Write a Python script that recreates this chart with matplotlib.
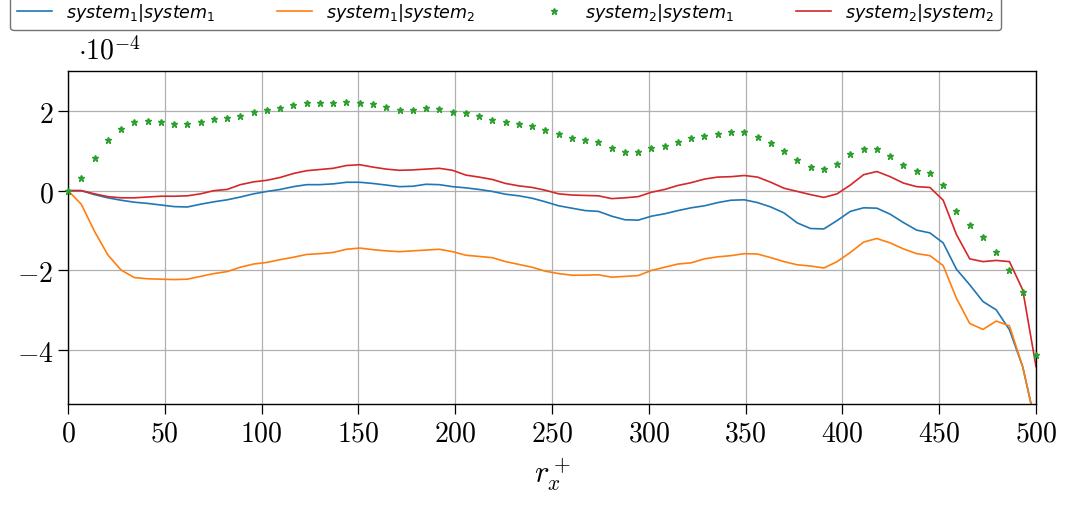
import numpy as np
import matplotlib
matplotlib.use("Agg")
import matplotlib.pyplot as plt
from matplotlib.font_manager import FontProperties

# ---- data (values in units of 1e-4) ----
x = np.linspace(0, 500, 74)

s11 = [0.0, 0.0, -0.10, -0.18, -0.24, -0.29, -0.32, -0.36, -0.40, -0.41,
       -0.34, -0.28, -0.23, -0.16, -0.08, -0.02, 0.03, 0.10, 0.15, 0.15,
       0.17, 0.21, 0.21, 0.18, 0.14, 0.10, 0.11, 0.16, 0.15, 0.10,
       0.07, 0.03, -0.02, -0.09, -0.13, -0.19, -0.28, -0.38, -0.44, -0.50,
       -0.52, -0.64, -0.73, -0.74, -0.64, -0.58, -0.50, -0.43, -0.38, -0.30,
       -0.24, -0.23, -0.30, -0.41, -0.56, -0.81, -0.95, -0.96, -0.75, -0.52,
       -0.43, -0.44, -0.59, -0.80, -0.99, -1.06, -1.31, -1.97, -2.36, -2.78,
       -2.99, -3.49, -4.42, -5.90]

s12 = [0.0, -0.34, -1.02, -1.61, -1.99, -2.18, -2.21, -2.22, -2.23, -2.22,
       -2.15, -2.08, -2.03, -1.92, -1.84, -1.80, -1.73, -1.67, -1.60, -1.58,
       -1.55, -1.47, -1.44, -1.48, -1.51, -1.53, -1.51, -1.49, -1.47, -1.53,
       -1.62, -1.65, -1.68, -1.78, -1.85, -1.92, -2.02, -2.08, -2.12, -2.12,
       -2.11, -2.17, -2.15, -2.13, -2.00, -1.92, -1.84, -1.81, -1.71, -1.66,
       -1.63, -1.58, -1.59, -1.68, -1.78, -1.86, -1.89, -1.94, -1.78, -1.55,
       -1.29, -1.20, -1.31, -1.46, -1.58, -1.63, -1.88, -2.70, -3.33, -3.48,
       -3.27, -3.39, -4.42, -5.90]

s21 = [0.0, 0.32, 0.82, 1.26, 1.55, 1.71, 1.75, 1.73, 1.68, 1.68,
       1.73, 1.79, 1.83, 1.88, 1.97, 2.02, 2.08, 2.15, 2.19, 2.19,
       2.20, 2.23, 2.21, 2.17, 2.09, 2.03, 2.03, 2.06, 2.05, 1.98,
       1.94, 1.86, 1.78, 1.71, 1.66, 1.62, 1.52, 1.41, 1.33, 1.26,
       1.22, 1.08, 0.98, 0.97, 1.07, 1.11, 1.21, 1.32, 1.36, 1.43,
       1.47, 1.46, 1.35, 1.20, 0.99, 0.77, 0.60, 0.54, 0.67, 0.93,
       1.04, 1.04, 0.86, 0.65, 0.49, 0.45, 0.15, -0.50, -0.87, -1.16,
       -1.53, -1.99, -2.55, -4.13]

s22 = [0.0, 0.0, -0.08, -0.15, -0.18, -0.18, -0.16, -0.14, -0.14, -0.13,
       -0.08, 0.00, 0.03, 0.15, 0.22, 0.26, 0.33, 0.43, 0.50, 0.53,
       0.56, 0.63, 0.65, 0.59, 0.54, 0.51, 0.52, 0.54, 0.56, 0.51,
       0.39, 0.34, 0.28, 0.18, 0.12, 0.08, 0.01, -0.08, -0.11, -0.12,
       -0.13, -0.20, -0.18, -0.15, -0.04, 0.03, 0.13, 0.20, 0.29, 0.34,
       0.35, 0.38, 0.34, 0.21, 0.06, -0.02, -0.10, -0.17, -0.08, 0.14,
       0.40, 0.48, 0.35, 0.19, 0.10, 0.08, -0.24, -1.10, -1.71, -1.78,
       -1.75, -1.78, -2.49, -4.41]

labels = [r"$system_1|system_1$", r"$system_1|system_2$",
          r"$system_2|system_1$", r"$system_2|system_2$"]
xticks = [0, 50, 100, 150, 200, 250, 300, 350, 400, 450, 500]
yticks = [-4, -2, 0, 2]
scale = 1e-4

W, H = 1078, 506
fig = plt.figure(figsize=(W / 100, H / 100), dpi=100)
ax = fig.add_axes([68 / W, 1 - 405 / H, (1036 - 68) / W, (405 - 72) / H])

ax.plot(x, np.array(s11) * scale, color="tab:blue", lw=1.2, label=labels[0])
ax.plot(x, np.array(s12) * scale, color="tab:orange", lw=1.2, label=labels[1])
ax.plot(x, np.array(s21) * scale, ls="none", marker="*", ms=4.5,
        color="tab:green", label=labels[2], clip_on=False, zorder=3)
ax.plot(x, np.array(s22) * scale, color="tab:red", lw=1.2, label=labels[3])

ax.set_xlim(0, 500)
ax.set_ylim(-5.35e-4, 3.0e-4)
ax.set_xticks(xticks)
ax.set_xticklabels([f"${t}$" for t in xticks])
ax.set_yticks([t * scale for t in yticks])
ax.set_yticklabels([f"${t}$" if t >= 0 else f"$-{abs(t)}$" for t in yticks])
for lab in ax.get_xticklabels() + ax.get_yticklabels():
    lab.set_fontproperties(FontProperties(size=20, math_fontfamily="cm"))
ax.tick_params(direction="out", length=7, width=0.9, colors="black")
ax.grid(True, color="#b0b0b0", lw=0.9)
ax.set_axisbelow(True)
for sp in ax.spines.values():
    sp.set_linewidth(1.0)
    sp.set_color("black")

ax.set_xlabel(r"$r_x^+$", fontproperties=FontProperties(size=22, math_fontfamily="cm"),
              labelpad=6)
fig.text(78 / W, 1 - 60 / H, r"$\cdot 10^{-4}$",
         fontproperties=FontProperties(size=20, math_fontfamily="cm"),
         ha="left", va="baseline")

leg = fig.legend(loc="lower left", ncol=4, mode="expand",
                 bbox_to_anchor=(10 / W, 1 - 31 / H, 991 / W, 0.05),
                 prop=FontProperties(size=12.6, math_fontfamily="dejavusans"),
                 frameon=True, fancybox=True, borderaxespad=0,
                 handlelength=2.0, markerscale=1.0)
leg.get_frame().set_edgecolor("0.45")
leg.get_frame().set_linewidth(1.0)
leg.get_frame().set_alpha(1.0)

fig.savefig("out.png", dpi=100)
